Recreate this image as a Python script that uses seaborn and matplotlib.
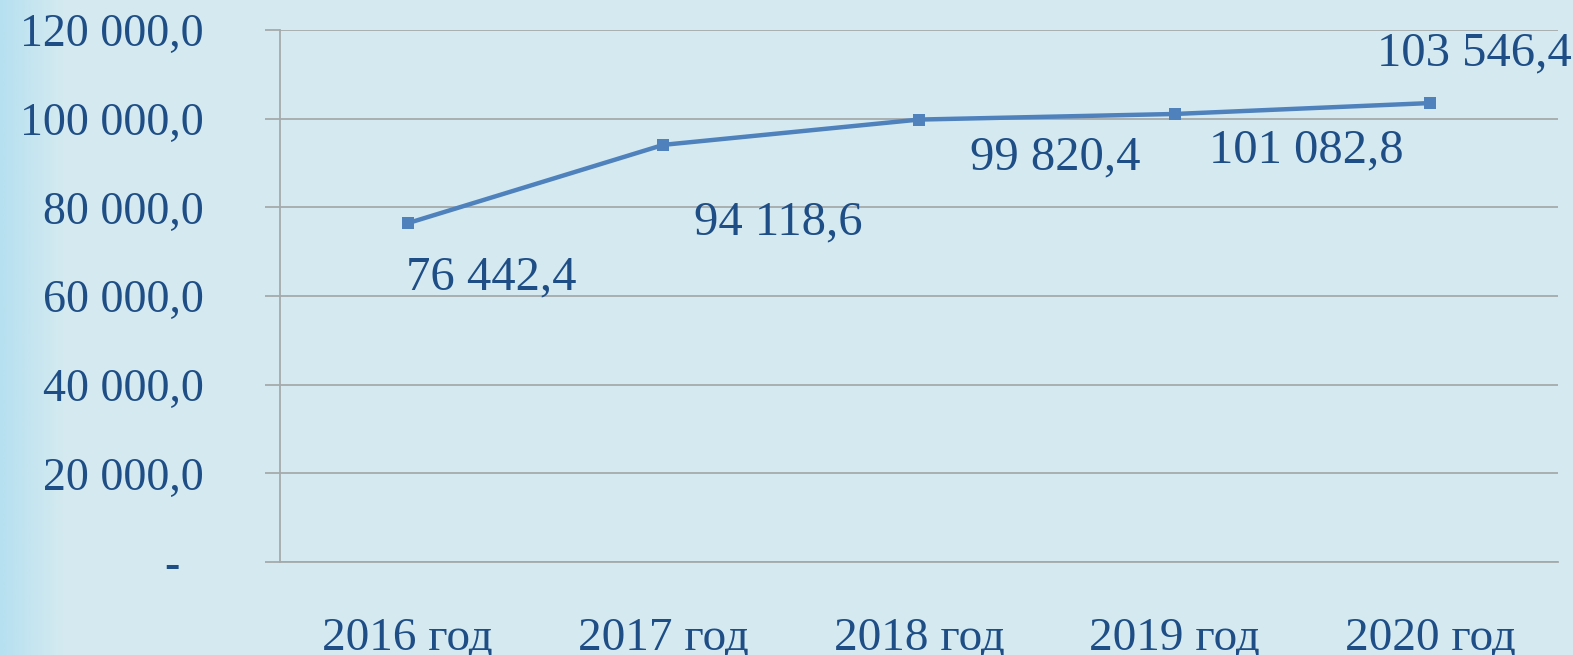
import numpy as np
import pandas as pd
import seaborn as sns
import matplotlib.pyplot as plt
from matplotlib.ticker import FuncFormatter, FixedLocator
from matplotlib.colors import LinearSegmentedColormap

# данные
years = ['2016 год', '2017 год', '2018 год', '2019 год', '2020 год']
values = [76442.4, 94118.6, 99820.4, 101082.8, 103546.4]
yticks = [0, 20000, 40000, 60000, 80000, 100000, 120000]

# смещения подписей (в пунктах)
label_offsets = [(60, -39), (83, -56), (98, -27), (95, -26), (32, 36)]

bg = '#d4eaf0'
txt = '#1f4e86'
line_col = '#4f81bd'
grid_col = '#a6a9ab'

sns.set_theme(style='white')
plt.rcParams['font.family'] = ['Liberation Serif', 'DejaVu Serif']

df = pd.DataFrame({'year': years, 'value': values})

fig = plt.figure(figsize=(15.73, 6.55), dpi=100)
fig.patch.set_facecolor(bg)

# градиент слева
gax = fig.add_axes([0, 0, 0.04, 1])
grad = np.linspace(0, 1, 64).reshape(1, -1)
cm = LinearSegmentedColormap.from_list('g', ['#b6e0f0', bg])
gax.imshow(grad, aspect='auto', cmap=cm)
gax.axis('off')

ax = fig.add_axes([0.178, 0.142, 0.8125, 0.812])
ax.set_facecolor(bg)

sns.lineplot(data=df, x='year', y='value', ax=ax, color=line_col, linewidth=3.2,
             marker='s', markersize=8, markeredgewidth=0, sort=False)


def fmt(v, p=None):
    # формат как в Excel: пробел для тысяч, запятая для дробной части
    if v == 0:
        return '-  '
    return f'{v:,.1f}'.replace(',', ' ').replace('.', ',')


ax.set_xlim(-0.5, len(years) - 0.5)
ax.set_ylim(0, 120000)
ax.set_yticks(yticks)
ax.yaxis.set_major_formatter(FuncFormatter(fmt))
ax.grid(axis='y', color=grid_col, linewidth=1.3)
ax.grid(axis='x', visible=False)

ax.set_xticks(range(len(years)))
ax.set_xticklabels(years)
ax.xaxis.set_minor_locator(FixedLocator(np.arange(-0.5, len(years), 1.0)))
ax.tick_params(axis='x', which='major', length=0, pad=40, labelsize=34, labelcolor=txt)
ax.tick_params(axis='x', which='minor', length=10, width=1, color=grid_col, direction='out')
ax.tick_params(axis='y', length=11, width=1.3, color=grid_col, pad=44, labelsize=33,
               labelcolor=txt, direction='out', left=True)

for s in ['top', 'right']:
    ax.spines[s].set_visible(False)
for s in ['left', 'bottom']:
    ax.spines[s].set_color(grid_col)
    ax.spines[s].set_linewidth(1.3)
ax.set_xlabel('')
ax.set_ylabel('')

for i, v in enumerate(values):
    ax.annotate(fmt(v), (i, v), xytext=label_offsets[i], textcoords='offset points',
                ha='center', va='center', fontsize=35, color=txt)

fig.savefig('out.png', dpi=100, facecolor=bg)
